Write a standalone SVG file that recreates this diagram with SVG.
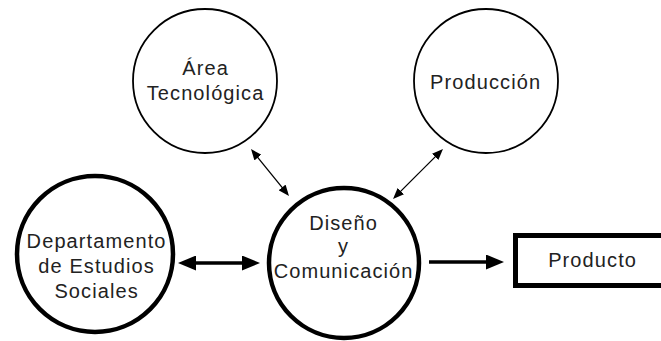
<svg xmlns="http://www.w3.org/2000/svg" width="661" height="341" viewBox="0 0 661 341">
  <style>
    .bg { fill: #ffffff; }
    .thin { fill: #ffffff; stroke: #000000; stroke-width: 1.8; }
    .thick { fill: #ffffff; stroke: #000000; stroke-width: 4.5; }
    .box { fill: #ffffff; stroke: #000000; stroke-width: 5; }
    .label { font-family: "Liberation Sans", Arial, sans-serif; font-size: 20px; letter-spacing: 1.1px; fill: #222222; text-anchor: middle; }
    .link-thin { stroke: #000000; stroke-width: 1.3; fill: none; }
    .link-thick { stroke: #000000; stroke-width: 3.5; fill: none; }
  </style>
  <defs>
    <marker id="head-thin" viewBox="0 0 11 9" refX="1" refY="4.5" markerWidth="11" markerHeight="9" markerUnits="userSpaceOnUse" orient="auto-start-reverse">
      <path d="M0,0 L11,4.5 L0,9 z" fill="#000000"/>
    </marker>
    <marker id="head-thick" viewBox="0 0 18 15" refX="3" refY="7.5" markerWidth="18" markerHeight="15" markerUnits="userSpaceOnUse" orient="auto-start-reverse">
      <path d="M0,0 L18,7.5 L0,15 z" fill="#000000"/>
    </marker>
  </defs>

  <rect class="bg" x="0" y="0" width="661" height="341"/>

  <g id="connectors">
    <line class="link-thin" x1="257.3" y1="156.8" x2="282.7" y2="188.2" marker-start="url(#head-thin)" marker-end="url(#head-thin)"/>
    <line class="link-thin" x1="435.9" y1="156.1" x2="400.1" y2="191.9" marker-start="url(#head-thin)" marker-end="url(#head-thin)"/>
    <line class="link-thick" x1="193" y1="263" x2="245" y2="263" marker-start="url(#head-thick)" marker-end="url(#head-thick)"/>
    <line class="link-thick" x1="429" y1="262" x2="489" y2="262" marker-end="url(#head-thick)"/>
  </g>

  <g id="area-tecnologica">
    <circle class="thin" cx="205" cy="81" r="72"/>
    <text class="label" x="205.6" y="75">Área</text>
    <text class="label" x="205.6" y="100">Tecnológica</text>
  </g>

  <g id="produccion">
    <circle class="thin" cx="486" cy="81" r="72"/>
    <text class="label" x="485.6" y="89">Producción</text>
  </g>

  <g id="departamento">
    <circle class="thick" cx="95" cy="254" r="78"/>
    <text class="label" x="96.6" y="248">Departamento</text>
    <text class="label" x="96.6" y="273">de Estudios</text>
    <text class="label" x="96.6" y="298">Sociales</text>
  </g>

  <g id="diseno">
    <circle class="thick" cx="344" cy="263" r="75"/>
    <text class="label" x="343.6" y="230">Diseño</text>
    <text class="label" x="343.6" y="253">y</text>
    <text class="label" x="343.6" y="278">Comunicación</text>
  </g>

  <g id="producto">
    <rect class="box" x="515.5" y="235.5" width="160" height="50"/>
    <text class="label" x="592.6" y="267">Producto</text>
  </g>
</svg>
